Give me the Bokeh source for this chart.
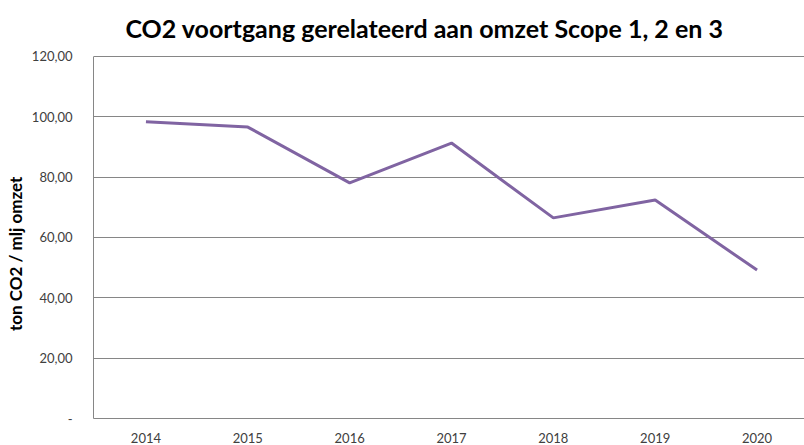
from bokeh.plotting import figure
from bokeh.models import Range1d, FixedTicker, Title, Label
from bokeh.embed import file_html
from bokeh.resources import INLINE

years = [2014, 2015, 2016, 2017, 2018, 2019, 2020]
co2_per_omzet = [98.4, 96.6, 78.1, 91.3, 66.5, 72.4, 49.2]
y_tick_values = [0, 20, 40, 60, 80, 100, 120]
y_tick_labels = ["-", "20,00", "40,00", "60,00", "80,00", "100,00", "120,00"]
title_text = "CO2 voortgang gerelateerd aan omzet Scope 1, 2  en 3"
y_label = "ton CO2 / mlj  omzet"

# frame runs to the top of the canvas; extra headroom above 120 holds the title
p = figure(width=804, height=445, output_backend="svg", toolbar_location=None,
           x_range=Range1d(2013.485, 2020.466), y_range=Range1d(0, 138.56),
           min_border_left=93, min_border_right=0, min_border_bottom=27, min_border_top=0)

p.outline_line_color = None
p.background_fill_color = "white"
p.border_fill_color = "white"

p.line(years, co2_per_omzet, line_color="#8064A2", line_width=3)

# chart title (screen units relative to the plot frame)
p.add_layout(Label(x=334, y=391, x_units="screen", y_units="screen", text=title_text,
                   text_font="Lato", text_font_size="25px", text_font_style="bold",
                   text_color="#000000", text_align="center", text_baseline="alphabetic"))

# y axis label as a left-side title
ylab = Title(text=y_label, text_font="Lato", text_font_size="17px",
             text_font_style="bold", text_color="#000000", align="right",
             offset=172, standoff=5)
p.add_layout(ylab, "left")

# y axis
p.yaxis.ticker = FixedTicker(ticks=y_tick_values)
p.yaxis.bounds = (y_tick_values[0], y_tick_values[-1])
p.yaxis.major_label_overrides = {v: l for v, l in zip(y_tick_values, y_tick_labels)}
p.yaxis.major_label_text_font = "Lato"
p.yaxis.major_label_text_font_size = "13px"
p.yaxis.major_label_text_color = "#404040"
p.yaxis.major_label_standoff = 15
p.yaxis.major_tick_line_color = None
p.yaxis.minor_tick_line_color = None
p.yaxis.axis_line_color = "#868686"

# x axis
p.xaxis.ticker = FixedTicker(ticks=years)
p.xaxis.major_label_text_font = "Lato"
p.xaxis.major_label_text_font_size = "13px"
p.xaxis.major_label_text_color = "#404040"
p.xaxis.major_label_standoff = 8
p.xaxis.major_tick_line_color = None
p.xaxis.minor_tick_line_color = None
p.xaxis.axis_line_color = "#868686"

p.xgrid.grid_line_color = None
p.ygrid.grid_line_color = "#868686"
p.ygrid.ticker = FixedTicker(ticks=y_tick_values)

open("out.html", "w").write(file_html(p, INLINE))
